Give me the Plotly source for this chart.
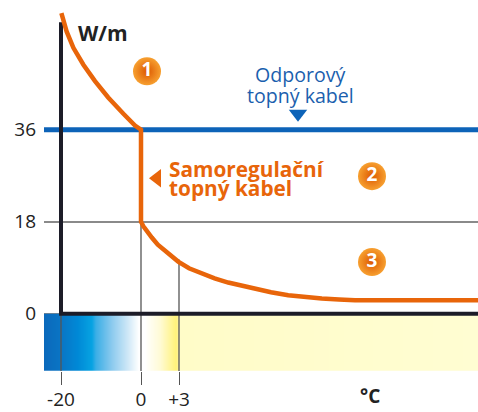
import numpy as np
import plotly.graph_objects as go

# ---- data (schematic axis units) ----
TEMP_LABELS = ["-20", "0", "+3"]
TEMP_POS = [-20, 0, 9.5]
POWER_TICKS = [0, 18, 36]
POWER_LABELS = ["0", "18", "36"]

CONST_LEVEL = 36  # Odporový topný kabel

SELF_REG_X = [-19.9, -18.6, -16.9, -14.4, -11.5, -8.2, -4.4, -1.5, 0,
              0, 0.6, 1.5, 2.7, 4.2, 6.0, 9.3, 12.0, 15.2, 18.4, 21.8, 25.0, 28.5, 32.5, 36.8, 41.0, 45.2, 49.5, 53.5, 84.25]
SELF_REG_Y = [58.8, 55.2, 52.0, 48.7, 45.5, 42.3, 39.1, 36.8, 36,
              18, 17.1, 16.1, 14.9, 13.5, 12.3, 10.2, 8.9, 7.8, 6.9, 6.1, 5.5, 4.9, 4.2, 3.6, 3.25, 3.0, 2.8, 2.65, 2.65]

ZONE_LABELS = ["1", "2", "3"]
ZONE_X = [1.5, 57.75, 57.75]
ZONE_Y = [47.4, 26.9, 10.1]

GRAD_POS = [-24.25, -20.25, -15.75, -12.25, -11.25, -7.25, -3.25, -0.5, 1.0, 4.75, 8.75, 9.4, 9.6, 84.25]
GRAD_COL = ["#0b69bb", "#0a74c4", "#0089d6", "#06a3e2", "#3aaee6", "#8ccaee", "#cfe8f7",
            "#ffffff", "#ffffff", "#fffbd6", "#fff27a", "#fff49a", "#fffcc8", "#fffdd2"]

X_MIN, X_MAX = -24.25, 84.25
Y_MIN, Y_MAX = -11.2, 59.4

ORANGE = "#e8650a"
BLUE = "#0d63b8"
DARK = "#1c1c28"
GRID = "#8a8a8a"
FONT = "Open Sans"

fig = go.Figure()

# gradient temperature band
edges = np.linspace(X_MIN, X_MAX, 435)
centers = (edges[:-1] + edges[1:]) / 2
scale = [[(p - X_MIN) / (X_MAX - X_MIN), c] for p, c in zip(GRAD_POS, GRAD_COL)]
fig.add_trace(go.Heatmap(x=edges, y=[Y_MIN, 0], z=[centers], colorscale=scale,
                         zmin=X_MIN, zmax=X_MAX, showscale=False, hoverinfo="skip"))

# thin vertical guide lines
fig.add_trace(go.Scatter(x=[TEMP_POS[0], TEMP_POS[0], None, TEMP_POS[1], TEMP_POS[1], None, TEMP_POS[2], TEMP_POS[2]],
                         y=[Y_MIN, 0, None, Y_MIN, 18, None, Y_MIN, 10.6],
                         mode="lines", line=dict(color="#555555", width=1.3), hoverinfo="skip", showlegend=False))

# constant-power cable
fig.add_trace(go.Scatter(x=[X_MIN - 0.5, X_MAX], y=[CONST_LEVEL, CONST_LEVEL], mode="lines",
                         line=dict(color=BLUE, width=5), hoverinfo="skip", showlegend=False, cliponaxis=False))

# axes
fig.add_trace(go.Scatter(x=[-20, -20, X_MAX], y=[57, 0, 0], mode="lines",
                         line=dict(color=DARK, width=4), hoverinfo="skip", showlegend=False))

# self-regulating cable
fig.add_trace(go.Scatter(x=SELF_REG_X, y=SELF_REG_Y, mode="lines",
                         line=dict(color=ORANGE, width=4.5), hoverinfo="skip", showlegend=False, cliponaxis=False))

# zone markers
fig.add_trace(go.Scatter(x=ZONE_X, y=ZONE_Y, mode="markers+text", text=ZONE_LABELS,
                         textfont=dict(family=FONT, size=19, color="white", weight="bold"),
                         textposition="middle center",
                         marker=dict(size=28, color="#f7a030", line=dict(width=0),
                                     gradient=dict(type="radial", color="#dc5800")),
                         hoverinfo="skip", showlegend=False))

# pointer triangles
fig.add_trace(go.Scatter(x=[39.25], y=[39.1], mode="markers",
                         marker=dict(symbol="triangle-down", size=16, color=BLUE),
                         hoverinfo="skip", showlegend=False))
fig.add_trace(go.Scatter(x=[4.0], y=[26.5], mode="markers",
                         marker=dict(symbol="triangle-left", size=16, color=ORANGE),
                         hoverinfo="skip", showlegend=False))

ann = [
    dict(x=-9.5, y=54.9, text="<b>W/m</b>", font=dict(size=21, color="#222222")),
    dict(x=39.75, y=46.8, text="Odporový", font=dict(size=19.6, color="#1b5fae")),
    dict(x=39.75, y=42.7, text="topný kabel", font=dict(size=19.6, color="#1b5fae")),
    dict(x=6.6, y=28.4, text="<b>Samoregulační</b>", xanchor="left", font=dict(size=20.8, color=ORANGE)),
    dict(x=6.6, y=24.5, text="<b>topný kabel</b>", xanchor="left", font=dict(size=20.8, color=ORANGE)),
    dict(x=57.25, y=-0.0685, yref="paper", text="<b>°C</b>", font=dict(size=19, color="#222222")),
]
annotations = []
for a in ann:
    d = dict(xref="x", yref="y", showarrow=False, xanchor="center", yanchor="middle")
    d.update(a)
    d["font"] = dict(family=FONT, **a["font"])
    annotations.append(d)

fig.update_layout(
    width=478, height=412,
    margin=dict(l=44, r=0, t=10, b=37),
    paper_bgcolor="white", plot_bgcolor="white",
    font=dict(family=FONT, color="#222222", size=18),
    showlegend=False,
    annotations=annotations,
    xaxis=dict(range=[X_MIN, X_MAX], tickvals=TEMP_POS, ticktext=TEMP_LABELS,
               ticks="outside", ticklen=13, tickwidth=1.3, tickcolor="#555555",
               showgrid=False, zeroline=False, showline=False, fixedrange=True,
               ticklabelstandoff=-2,
               tickfont=dict(family=FONT, size=19, color="#222222")),
    yaxis=dict(range=[Y_MIN, Y_MAX], tickvals=POWER_TICKS, ticktext=POWER_LABELS,
               ticks="", showgrid=True, gridcolor=GRID, gridwidth=1.5,
               zeroline=False, showline=False, fixedrange=True, ticklabelstandoff=7,
               tickfont=dict(family=FONT, size=19, color="#222222")),
)

# remove the default page margin so the 478x412 figure fills the window exactly
fig.write_html("out.html", config={"displayModeBar": False},
               post_script="document.body.style.margin='0';document.body.style.overflow='hidden';")
